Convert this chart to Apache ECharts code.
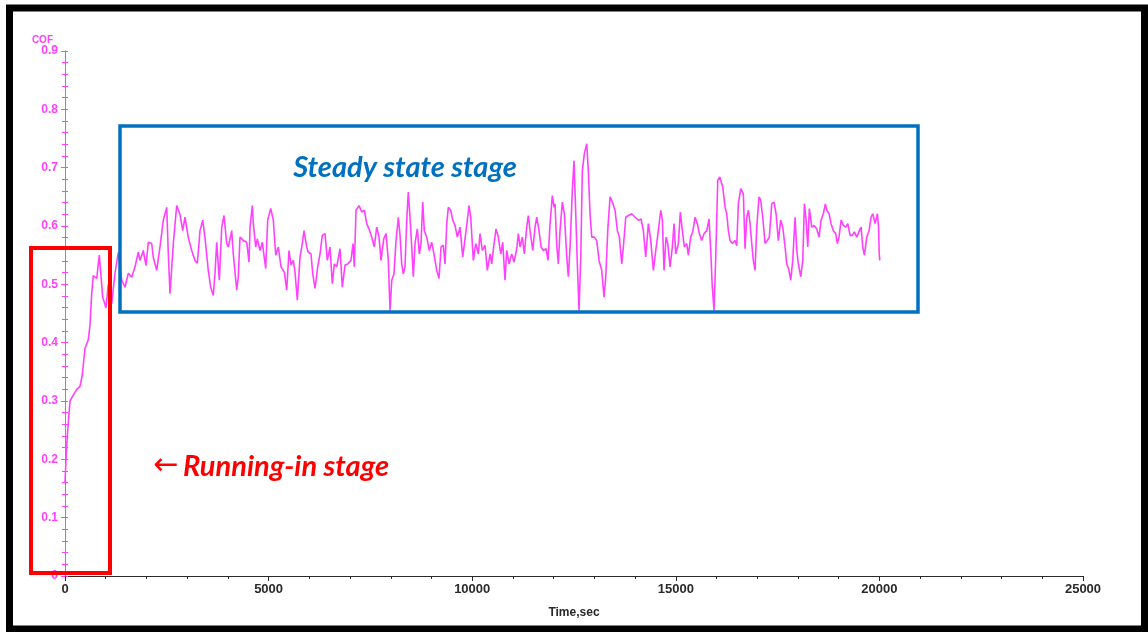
<!DOCTYPE html>
<html>
<head>
<meta charset="utf-8">
<script src="https://cdn.jsdelivr.net/npm/echarts@6/dist/echarts.min.js"></script>
<style>
  html, body { margin: 0; padding: 0; background: #ffffff; }
  #chart { width: 1148px; height: 632px; }
</style>
</head>
<body>
<div id="chart"></div>
<script>
// Friction test record: coefficient of friction against sliding time (s)
const timeSec = [
  0, 25, 56, 123, 204, 287, 368, 425, 491, 572, 614, 656, 695, 779, 842, 877, 926, 1007, 1063, 1147,
  1228, 1309, 1393, 1474, 1555, 1638, 1719, 1800, 1842, 1923, 1989, 2046, 2129, 2169, 2252, 2333, 2414, 2498, 2537, 2579,
  2660, 2743, 2824, 2891, 2947, 3028, 3112, 3193, 3249, 3316, 3382, 3438, 3519, 3578, 3642, 3684, 3726, 3790, 3849, 3905,
  3971, 4011, 4094, 4133, 4217, 4256, 4298, 4379, 4463, 4519, 4544, 4600, 4625, 4684, 4723, 4789, 4846, 4895, 4929, 4978,
  5052, 5116, 5175, 5239, 5305, 5386, 5445, 5501, 5551, 5607, 5649, 5705, 5772, 5828, 5870, 5936, 5975, 6042, 6084, 6140,
  6206, 6263, 6319, 6386, 6442, 6508, 6565, 6614, 6673, 6754, 6810, 6877, 6943, 7024, 7073, 7105, 7147, 7221, 7287, 7351,
  7410, 7466, 7533, 7596, 7655, 7712, 7761, 7827, 7884, 7940, 7982, 8024, 8080, 8129, 8186, 8228, 8269, 8308, 8350, 8392,
  8431, 8473, 8515, 8554, 8596, 8652, 8702, 8743, 8785, 8824, 8883, 8947, 9006, 9062, 9129, 9185, 9235, 9291, 9333, 9375,
  9414, 9473, 9522, 9578, 9635, 9701, 9767, 9824, 9880, 9922, 9964, 10028, 10087, 10151, 10192, 10249, 10315, 10372, 10438, 10480,
  10536, 10585, 10642, 10701, 10750, 10806, 10848, 10905, 10971, 11027, 11094, 11133, 11175, 11231, 11280, 11339, 11379, 11420, 11487, 11543,
  11585, 11641, 11691, 11747, 11814, 11862, 11912, 11968, 12010, 12034, 12076, 12115, 12157, 12214, 12263, 12322, 12361, 12403, 12459, 12501,
  12543, 12582, 12624, 12666, 12705, 12754, 12813, 12852, 12894, 12936, 13000, 13059, 13115, 13181, 13238, 13280, 13329, 13385, 13442, 13508,
  13565, 13614, 13673, 13712, 13771, 13835, 13918, 13999, 14080, 14147, 14203, 14262, 14326, 14385, 14449, 14508, 14571, 14630, 14670, 14711,
  14760, 14802, 14859, 14915, 14957, 14999, 15063, 15112, 15161, 15210, 15269, 15308, 15367, 15416, 15473, 15529, 15578, 15637, 15694, 15760,
  15816, 15858, 15897, 15939, 15981, 16030, 16079, 16153, 16210, 16251, 16291, 16332, 16389, 16455, 16497, 16536, 16595, 16659, 16701, 16743,
  16782, 16824, 16865, 16904, 16946, 16988, 17044, 17086, 17135, 17192, 17248, 17297, 17356, 17413, 17462, 17518, 17577, 17627, 17683, 17725,
  17781, 17823, 17872, 17929, 17971, 18010, 18069, 18118, 18158, 18200, 18241, 18280, 18339, 18396, 18462, 18519, 18567, 18624, 18673, 18707,
  18764, 18813, 18869, 18928, 18967, 19009, 19059, 19115, 19174, 19223, 19280, 19336, 19385, 19444, 19508, 19550, 19591, 19631, 19690, 19746,
  19795, 19837, 19894, 19950, 19980, 19995, 20010
];
const cof = [
  0.160, 0.200, 0.240, 0.300, 0.310, 0.320, 0.325, 0.345, 0.390, 0.405, 0.430, 0.484, 0.515, 0.510, 0.550, 0.520, 0.478, 0.460, 0.500, 0.467,
  0.519, 0.555, 0.507, 0.495, 0.519, 0.512, 0.530, 0.555, 0.541, 0.558, 0.532, 0.572, 0.570, 0.546, 0.524, 0.564, 0.610, 0.632, 0.553, 0.484,
  0.570, 0.635, 0.620, 0.592, 0.615, 0.580, 0.558, 0.541, 0.536, 0.592, 0.610, 0.580, 0.524, 0.495, 0.481, 0.519, 0.572, 0.507, 0.598, 0.618,
  0.570, 0.564, 0.592, 0.552, 0.490, 0.513, 0.581, 0.575, 0.572, 0.538, 0.598, 0.635, 0.604, 0.564, 0.578, 0.558, 0.572, 0.570, 0.527, 0.610,
  0.630, 0.610, 0.550, 0.564, 0.530, 0.521, 0.490, 0.558, 0.533, 0.541, 0.521, 0.473, 0.547, 0.570, 0.592, 0.564, 0.555, 0.552, 0.518, 0.493,
  0.530, 0.552, 0.584, 0.587, 0.541, 0.564, 0.501, 0.535, 0.530, 0.561, 0.495, 0.533, 0.535, 0.541, 0.570, 0.530, 0.627, 0.635, 0.624, 0.627,
  0.604, 0.595, 0.581, 0.564, 0.598, 0.581, 0.541, 0.578, 0.587, 0.541, 0.455, 0.507, 0.518, 0.575, 0.615, 0.584, 0.535, 0.518, 0.530, 0.610,
  0.658, 0.615, 0.564, 0.513, 0.570, 0.595, 0.552, 0.570, 0.641, 0.592, 0.581, 0.558, 0.572, 0.552, 0.524, 0.510, 0.564, 0.567, 0.535, 0.604,
  0.632, 0.627, 0.610, 0.601, 0.581, 0.598, 0.547, 0.578, 0.610, 0.635, 0.615, 0.541, 0.570, 0.552, 0.587, 0.558, 0.567, 0.524, 0.552, 0.535,
  0.570, 0.595, 0.581, 0.552, 0.572, 0.507, 0.558, 0.535, 0.552, 0.538, 0.561, 0.587, 0.564, 0.581, 0.552, 0.598, 0.618, 0.592, 0.558, 0.598,
  0.615, 0.592, 0.564, 0.558, 0.561, 0.541, 0.604, 0.652, 0.632, 0.638, 0.567, 0.535, 0.592, 0.641, 0.621, 0.547, 0.513, 0.564, 0.661, 0.712,
  0.621, 0.535, 0.455, 0.547, 0.695, 0.724, 0.741, 0.695, 0.621, 0.581, 0.581, 0.575, 0.541, 0.524, 0.478, 0.513, 0.592, 0.650, 0.641, 0.627,
  0.592, 0.581, 0.535, 0.564, 0.615, 0.618, 0.621, 0.615, 0.610, 0.612, 0.592, 0.547, 0.604, 0.575, 0.524, 0.558, 0.592, 0.627, 0.610, 0.524,
  0.581, 0.570, 0.530, 0.564, 0.604, 0.552, 0.570, 0.624, 0.592, 0.564, 0.570, 0.550, 0.581, 0.590, 0.615, 0.604, 0.587, 0.575, 0.587, 0.592,
  0.612, 0.558, 0.495, 0.455, 0.547, 0.678, 0.684, 0.667, 0.632, 0.621, 0.592, 0.575, 0.570, 0.575, 0.566, 0.638, 0.664, 0.655, 0.561, 0.615,
  0.627, 0.604, 0.570, 0.541, 0.524, 0.598, 0.650, 0.644, 0.615, 0.570, 0.575, 0.581, 0.638, 0.641, 0.621, 0.575, 0.610, 0.598, 0.564, 0.535,
  0.524, 0.507, 0.541, 0.615, 0.558, 0.535, 0.513, 0.541, 0.638, 0.610, 0.564, 0.630, 0.598, 0.601, 0.595, 0.581, 0.610, 0.621, 0.638, 0.627,
  0.621, 0.604, 0.592, 0.587, 0.570, 0.581, 0.610, 0.601, 0.598, 0.604, 0.584, 0.584, 0.590, 0.581, 0.592, 0.598, 0.564, 0.550, 0.581, 0.592,
  0.615, 0.621, 0.604, 0.621, 0.598, 0.553, 0.541
];

// Axis settings
const xMax = 25000, xStep = 5000;
const yMax = 0.9, yStep = 0.1;

const magenta = '#ff40ff';
const axisGrey = '#2a2a2a';

const chart = echarts.init(document.getElementById('chart'), null, { renderer: 'canvas' });

const points = timeSec.map((t, i) => [t, cof[i]]);

const yAxisBase = {
  type: 'value',
  min: 0,
  max: yMax,
  interval: yStep,
  splitLine: { show: false },
  minorSplitLine: { show: false },
  axisLine: { show: true, lineStyle: { color: magenta, width: 1 } }
};

chart.setOption({
  backgroundColor: '#ffffff',
  animation: false,
  grid: { left: 65, right: 65, top: 51, bottom: 56, containLabel: false },
  xAxis: {
    type: 'value',
    min: 0,
    max: xMax,
    interval: xStep,
    name: 'Time,sec',
    nameLocation: 'middle',
    nameGap: 31,
    nameTextStyle: { color: axisGrey, fontFamily: 'Liberation Sans', fontSize: 12, fontWeight: 'bold' },
    splitLine: { show: false },
    axisLine: { show: true, onZero: false, lineStyle: { color: axisGrey, width: 1 } },
    axisTick: { show: true, length: 5, lineStyle: { color: axisGrey } },
    minorTick: { show: true, splitNumber: 5, length: 3, lineStyle: { color: axisGrey } },
    axisLabel: {
      color: axisGrey, fontFamily: 'Liberation Sans', fontSize: 13, fontWeight: 'bold', margin: 7,
      formatter: v => String(v)
    }
  },
  yAxis: [
    Object.assign({}, yAxisBase, {
      name: 'COF',
      nameLocation: 'end',
      nameGap: 5,
      nameTextStyle: { color: magenta, fontFamily: 'Liberation Sans', fontSize: 10, fontWeight: 'bold', align: 'right', padding: [0, 12, 0, 0] },
      axisTick: { show: true, length: 4, lineStyle: { color: magenta } },
      minorTick: { show: true, splitNumber: 5, length: 3, lineStyle: { color: magenta } },
      axisLabel: {
        color: magenta, fontFamily: 'Liberation Sans', fontSize: 12, fontWeight: 'bold', margin: 7,
        formatter: v => String(Math.round(v * 10) / 10)
      }
    }),
    Object.assign({}, yAxisBase, {
      position: 'left',
      axisLabel: { show: false },
      axisTick: { show: true, inside: true, length: 3, lineStyle: { color: magenta } },
      minorTick: { show: true, splitNumber: 5, length: 3, lineStyle: { color: magenta } }
    })
  ],
  series: [{
    type: 'line',
    data: points,
    showSymbol: false,
    smooth: false,
    clip: true,
    lineStyle: { color: magenta, width: 1.6 },
    z: 3
  }],
  graphic: [
    {
      type: 'rect', z: 100, silent: true,
      shape: { x: 9.5, y: 8, width: 1135, height: 621 },
      style: { fill: 'none', stroke: '#000000', lineWidth: 7 }
    },
    {
      type: 'rect', z: 101, silent: true,
      shape: { x: 31, y: 248, width: 79, height: 325 },
      style: { fill: 'none', stroke: '#ff0000', lineWidth: 4 }
    },
    {
      type: 'rect', z: 101, silent: true,
      shape: { x: 120, y: 126, width: 798, height: 186 },
      style: { fill: 'none', stroke: '#0070c0', lineWidth: 3.5 }
    },
    {
      type: 'text', z: 102, silent: true,
      x: 405, y: 168,
      style: {
        text: 'Steady state stage',
        fill: '#0070c0',
        font: 'italic bold 29px Lato, "Open Sans", sans-serif',
        align: 'center', verticalAlign: 'middle'
      }
    },
    {
      type: 'text', z: 102, silent: true,
      x: 166, y: 466,
      style: {
        text: '←',
        fill: '#ff0000',
        font: '30px "DejaVu Sans", sans-serif',
        align: 'center', verticalAlign: 'middle'
      }
    },
    {
      type: 'text', z: 102, silent: true,
      x: 183, y: 467,
      style: {
        text: 'Running-in stage',
        fill: '#ff0000',
        font: 'italic bold 29px Lato, "Open Sans", sans-serif',
        align: 'left', verticalAlign: 'middle'
      }
    }
  ]
});
</script>
</body>
</html>
